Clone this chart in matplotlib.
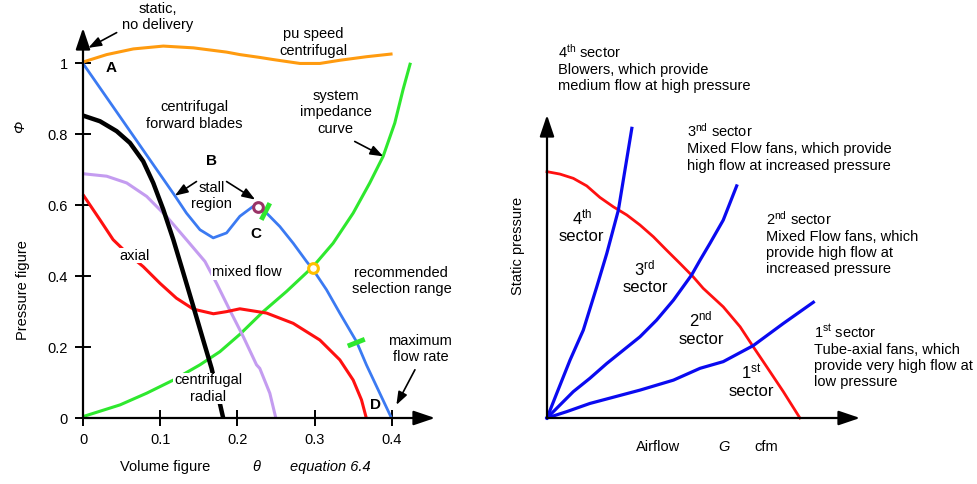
import numpy as np
import matplotlib
matplotlib.use("Agg")
import matplotlib.pyplot as plt

plt.rcParams["font.family"] = ["Liberation Sans", "DejaVu Sans"]
plt.rcParams["mathtext.fontset"] = "custom"
plt.rcParams["mathtext.rm"] = "Liberation Sans"
plt.rcParams["mathtext.it"] = "Liberation Sans:italic"
plt.rcParams["mathtext.bf"] = "Liberation Sans:bold"

# ---- left chart: pressure figure vs volume figure ----
theta_ticks = [0, 0.1, 0.2, 0.3, 0.4]
theta_labels = ["0", "0.1", "0.2", "0.3", "0.4"]
phi_ticks = [0, 0.2, 0.4, 0.6, 0.8, 1.0]
phi_labels = ["0", "0.2", "0.4", "0.6", "0.8", "1"]

pu_theta = [0, 0.0307, 0.0652, 0.104, 0.143, 0.186, 0.2032, 0.229, 0.2464, 0.281,
            0.3068, 0.3327, 0.3672, 0.401]
pu_phi = [1.004, 1.025, 1.041, 1.049, 1.044, 1.032, 1.025, 1.017, 1.011, 1.0,
          1.0, 1.009, 1.019, 1.027]

fwd_theta = [0, 0.119, 0.134, 0.1515, 0.1687, 0.186, 0.2032, 0.2205, 0.2378, 0.255,
             0.2723, 0.2896, 0.2982, 0.3155, 0.3327, 0.3543, 0.3672, 0.3845, 0.3996]
fwd_phi = [1.0, 0.627, 0.578, 0.531, 0.508, 0.522, 0.569, 0.597, 0.578, 0.540,
           0.493, 0.4415, 0.418, 0.3616, 0.2957, 0.2156, 0.1497, 0.0697, 0.0]

rad_theta = [0, 0.022, 0.0436, 0.0608, 0.078, 0.091, 0.104, 0.117, 0.130, 0.143,
             0.1557, 0.1666, 0.1773, 0.1816]
rad_phi = [0.853, 0.837, 0.809, 0.776, 0.724, 0.663, 0.588, 0.503, 0.409, 0.314,
           0.220, 0.140, 0.041, 0.0]

mix_theta = [0, 0.0307, 0.0566, 0.0825, 0.108, 0.134, 0.158, 0.173, 0.190, 0.2075,
             0.2248, 0.229, 0.242, 0.2498]
mix_phi = [0.689, 0.682, 0.663, 0.625, 0.569, 0.503, 0.4415, 0.380, 0.305, 0.230,
           0.150, 0.140, 0.070, 0.0]

ax_theta = [0, 0.022, 0.039, 0.058, 0.078, 0.0997, 0.121, 0.143, 0.169, 0.186, 0.2032,
            0.2378, 0.2723, 0.3068, 0.3327, 0.350, 0.3608, 0.367]
ax_phi = [0.630, 0.559, 0.503, 0.463, 0.427, 0.380, 0.338, 0.307, 0.294, 0.300, 0.308,
          0.296, 0.267, 0.220, 0.164, 0.107, 0.051, 0.0]

sys_theta = [0, 0.048, 0.0825, 0.117, 0.1515, 0.1773, 0.2032, 0.2334, 0.2637, 0.298,
             0.324, 0.350, 0.3715, 0.3888, 0.4039, 0.4147, 0.4242]
sys_phi = [0.004, 0.037, 0.070, 0.107, 0.150, 0.187, 0.236, 0.300, 0.357, 0.427,
           0.493, 0.578, 0.663, 0.738, 0.832, 0.927, 1.002]

stall_pt = (0.227, 0.595)
oper_pt = (0.298, 0.423)
range_marks = [((0.231, 0.242), (0.559, 0.606)), ((0.343, 0.365), (0.203, 0.222))]

# ---- right chart: static pressure vs airflow ----
fan_g = [0, 0.0415, 0.084, 0.127, 0.169, 0.212, 0.255, 0.297, 0.340, 0.382, 0.425,
         0.467, 0.499, 0.563, 0.617, 0.659, 0.702, 0.755, 0.808]
fan_p = [0.813, 0.805, 0.791, 0.766, 0.728, 0.697, 0.670, 0.637, 0.598, 0.554, 0.510,
         0.466, 0.428, 0.367, 0.301, 0.235, 0.169, 0.087, 0.0]

s4_g = [0, 0.031, 0.0735, 0.116, 0.159, 0.191, 0.228, 0.249, 0.271]
s4_p = [0, 0.081, 0.191, 0.290, 0.433, 0.543, 0.686, 0.818, 0.956]
s3_g = [0, 0.084, 0.137, 0.191, 0.244, 0.297, 0.350, 0.404, 0.462, 0.489, 0.521, 0.563, 0.606]
s3_p = [0, 0.087, 0.131, 0.180, 0.224, 0.268, 0.323, 0.389, 0.472, 0.521, 0.577, 0.653, 0.766]
s1_g = [0, 0.063, 0.137, 0.297, 0.404, 0.489, 0.563, 0.659, 0.755, 0.851]
s1_p = [0, 0.021, 0.048, 0.092, 0.125, 0.164, 0.186, 0.239, 0.312, 0.382]

FS = 10.5
ORANGE = "#ff9b0f"
BLUE = "#3b7af2"
PURPLE = "#c49cf0"
RED = "#ff1010"
GREEN = "#2ee82e"


def axis_arrow(ax, end):
    ax.annotate("", xy=end, xytext=(0, 0),
                arrowprops=dict(arrowstyle="-|>,head_length=0.65,head_width=0.22",
                                mutation_scale=20, color="black", lw=1.6,
                                shrinkA=0, shrinkB=0),
                annotation_clip=False)


def pointer(ax, tail, head):
    ax.annotate("", xy=head, xytext=tail,
                arrowprops=dict(arrowstyle="-|>,head_length=0.6,head_width=0.22",
                                mutation_scale=13, color="black", lw=1.2,
                                shrinkA=0, shrinkB=0),
                annotation_clip=False)


def left_chart(fig):
    ax = fig.add_axes([83 / 977, 66 / 484, 352 / 977, 390 / 484])
    ax.set_xlim(0, 0.456)
    ax.set_ylim(0, 1.10)
    for s in ax.spines.values():
        s.set_visible(False)
    ax.set_xticks(theta_ticks, theta_labels)
    ax.set_yticks(phi_ticks, phi_labels)
    ax.tick_params(direction="inout", length=11, width=1.4, pad=5.5, labelsize=FS)
    axis_arrow(ax, (0.456, 0))
    axis_arrow(ax, (0, 1.10))

    kw = dict(clip_on=False, solid_capstyle="butt", solid_joinstyle="round")
    ax.plot(pu_theta, pu_phi, color=ORANGE, lw=2.2, **kw)
    ax.plot(sys_theta, sys_phi, color=GREEN, lw=2.2, **kw)
    ax.plot(mix_theta, mix_phi, color=PURPLE, lw=2.2, **kw)
    ax.plot(ax_theta, ax_phi, color=RED, lw=2.2, **kw)
    ax.plot(rad_theta, rad_phi, color="black", lw=3.2, **kw)
    ax.plot(fwd_theta, fwd_phi, color=BLUE, lw=2.0, **kw)
    for xs, ys in range_marks:
        ax.plot(xs, ys, color=GREEN, lw=3.5, **kw)
    ax.plot(*stall_pt, "o", ms=7, mfc="white", mec="#993366", mew=2.2, zorder=5)
    ax.plot(*oper_pt, "o", ms=7, mfc="white", mec="#ffc000", mew=2.2, zorder=5)

    box = dict(facecolor="white", edgecolor="none", pad=0.5)
    tk = dict(ha="center", va="center", fontsize=FS, zorder=6)
    ax.text(0.0967, 1.13, "static,\nno delivery", **tk)
    ax.text(0.298, 1.059, "pu speed\ncentrifugal", **tk)
    ax.text(0.144, 0.853, "centrifugal\nforward blades", **tk)
    ax.text(0.3275, 0.862, "system\nimpedance\ncurve", **tk)
    ax.text(0.167, 0.627, "stall\nregion", **tk)
    ax.text(0.0673, 0.458, "axial", bbox=box, **tk)
    ax.text(0.212, 0.412, "mixed flow", bbox=box, **tk)
    ax.text(0.4125, 0.387, "recommended\nselection range", **tk)
    ax.text(0.437, 0.195, "maximum\nflow rate", **tk)
    ax.text(0.162, 0.083, "centrifugal\nradial", bbox=box, **tk)
    bk = dict(ha="center", va="center", fontsize=11, fontweight="bold", zorder=6)
    ax.text(0.036, 0.988, "A", **bk)
    ax.text(0.1666, 0.726, "B", **bk)
    ax.text(0.224, 0.519, "C", **bk)
    ax.text(0.379, 0.037, "D", **bk)

    pointer(ax, (0.0436, 1.087), (0.0069, 1.044))
    pointer(ax, (0.147, 0.667), (0.119, 0.627))
    pointer(ax, (0.186, 0.667), (0.223, 0.616))
    pointer(ax, (0.352, 0.780), (0.389, 0.738))
    pointer(ax, (0.430, 0.136), (0.406, 0.037))

    ax.text(-0.0777, 0.362, "Pressure figure", rotation=90, **tk)
    ax.text(-0.0816, 0.822, "Φ", rotation=90, style="italic", **tk)
    ax.text(0.106, -0.139, "Volume figure", **tk)
    ax.text(0.225, -0.139, "θ", style="italic", **tk)
    ax.text(0.32, -0.139, "equation 6.4", style="italic", **tk)
    return ax


def right_chart(fig):
    ax = fig.add_axes([547 / 977, 66 / 484, 313 / 977, 303 / 484])
    ax.set_xlim(0, 1)
    ax.set_ylim(0, 1)
    ax.set_axis_off()
    axis_arrow(ax, (1.0, 0))
    axis_arrow(ax, (0, 1.0))

    kw = dict(clip_on=False, solid_joinstyle="round")
    ax.plot(fan_g, fan_p, color=RED, lw=2.0, **kw)
    for g, p in [(s4_g, s4_p), (s3_g, s3_p), (s1_g, s1_p)]:
        ax.plot(g, p, color="#0a0af0", lw=2.3, **kw)

    lk = dict(ha="left", va="center", fontsize=FS, linespacing=1.2)
    ax.text(0.036, 1.156, "$\\mathrm{4}^{\\mathrm{th}}$ sector\nBlowers, which provide\n"
            "medium flow at high pressure", **lk)
    ax.text(0.446, 0.893, "$\\mathrm{3}^{\\mathrm{nd}}$ sector\nMixed Flow fans, which provide\n"
            "high flow at increased pressure", **lk)
    ax.text(0.700, 0.577, "$\\mathrm{2}^{\\mathrm{nd}}$ sector\nMixed Flow fans, which\n"
            "provide high flow at\nincreased pressure", **lk)
    ax.text(0.853, 0.204, "$\\mathrm{1}^{\\mathrm{st}}$ sector\nTube-axial fans, which\n"
            "provide very high flow at\nlow pressure", **lk)

    ck = dict(ha="center", va="center", fontsize=12, linespacing=1.15)
    ax.text(0.111, 0.634, "$\\mathrm{4}^{\\mathrm{th}}$\nsector", **ck)
    ax.text(0.313, 0.466, "$\\mathrm{3}^{\\mathrm{rd}}$\nsector", **ck)
    ax.text(0.492, 0.296, "$\\mathrm{2}^{\\mathrm{nd}}$\nsector", **ck)
    ax.text(0.654, 0.124, "$\\mathrm{1}^{\\mathrm{st}}$\nsector", **ck)

    tk = dict(ha="center", va="center", fontsize=FS)
    ax.text(-0.093, 0.568, "Static pressure", rotation=90, **tk)
    ax.text(0.356, -0.097, "Airflow", **tk)
    ax.text(0.565, -0.097, "G", style="italic", **tk)
    ax.text(0.702, -0.097, "cfm", **tk)
    return ax


def main():
    fig = plt.figure(figsize=(9.77, 4.84), dpi=100)
    left_chart(fig)
    right_chart(fig)
    fig.savefig("out.png", dpi=100)


if __name__ == "__main__":
    main()
